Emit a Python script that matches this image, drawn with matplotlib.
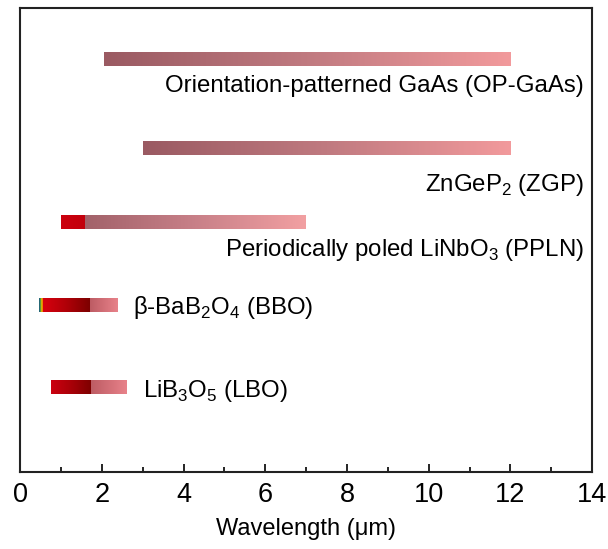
import numpy as np
import matplotlib
matplotlib.use('Agg')
import matplotlib.pyplot as plt
from matplotlib.colors import LinearSegmentedColormap

plt.rcParams['font.family'] = ['Liberation Sans', 'DejaVu Sans']

# transparency / phase-matching ranges in um, segment edges per crystal
crystals = ['OP-GaAs', 'ZGP', 'PPLN', 'BBO', 'LBO']
labels = ['Orientation-patterned GaAs (OP-GaAs)',
          'ZnGeP$_\\mathregular{2}$ (ZGP)',
          'Periodically poled LiNbO$_\\mathregular{3}$ (PPLN)',
          '\u03b2-BaB$_\\mathregular{2}$O$_\\mathregular{4}$ (BBO)',
          'LiB$_\\mathregular{3}$O$_\\mathregular{5}$ (LBO)']
edges = {
    'OP-GaAs': [2.05, 12.0],
    'ZGP': [3.0, 12.0],
    'PPLN': [1.0, 1.6, 7.0],
    'BBO': [0.46, 0.56, 1.71, 2.38],
    'LBO': [0.76, 1.74, 2.62],
}

rows = [5.34, 4.19, 3.23, 2.16, 1.10]
bar_h = 0.175

mauve = ['#9a5a62', '#c07a80', '#f29a9c']
red = ['#d8000e', '#b00008', '#7c0000']
pink = ['#bd5c64', '#e8828a']
rainbow = ['#1e4e9e', '#2f8a40', '#e8c000', '#f07a00', '#e02000']
seg_colors = {
    'OP-GaAs': [mauve],
    'ZGP': [mauve],
    'PPLN': [['#cc000e', '#c2000c'], ['#a2626a', '#c88088', '#f2a0a2']],
    'BBO': [rainbow, red, pink],
    'LBO': [['#cc0010', '#a80008', '#7c0000'], pink],
}

fig = plt.figure(figsize=(6.08, 5.49), dpi=100)
ax = fig.add_axes([0.033, 0.140, 0.941, 0.845])

grad = np.linspace(0, 1, 256).reshape(1, -1)
for name, y in zip(crystals, rows):
    e = edges[name]
    for i, cols in enumerate(seg_colors[name]):
        cmap = LinearSegmentedColormap.from_list(name + str(i), cols)
        ax.imshow(grad, cmap=cmap, aspect='auto', interpolation='bilinear',
                  extent=[e[i], e[i + 1], y - bar_h / 2, y + bar_h / 2], zorder=2)

# long ranges get the label under the bar, short ones beside it
fs = 17.3
ax.text(13.8, rows[0] - 0.35, labels[0], ha='right', va='center', fontsize=fs)
ax.text(13.8, rows[1] - 0.48, labels[1], ha='right', va='center', fontsize=fs)
ax.text(13.8, rows[2] - 0.36, labels[2], ha='right', va='center', fontsize=fs)
ax.text(2.76, rows[3] - 0.03, labels[3], ha='left', va='center', fontsize=fs)
ax.text(3.02, rows[4] - 0.05, labels[4], ha='left', va='center', fontsize=fs)

ax.set_xlim(0, 14)
ax.set_ylim(0, 6)
ax.set_xticks(np.arange(0, 15, 2))
ax.set_xticks(np.arange(1, 14, 2), minor=True)
ax.set_yticks([])
ax.tick_params(axis='x', which='major', direction='in', length=6, width=1.2,
               labelsize=19.5, pad=7)
ax.tick_params(axis='x', which='minor', direction='in', length=3.5, width=1.2)
for s in ax.spines.values():
    s.set_linewidth(1.5)
    s.set_color('#222222')
ax.set_xlabel('Wavelength (\u03bcm)', fontsize=17, labelpad=7)

fig.savefig('out.png', dpi=100)
